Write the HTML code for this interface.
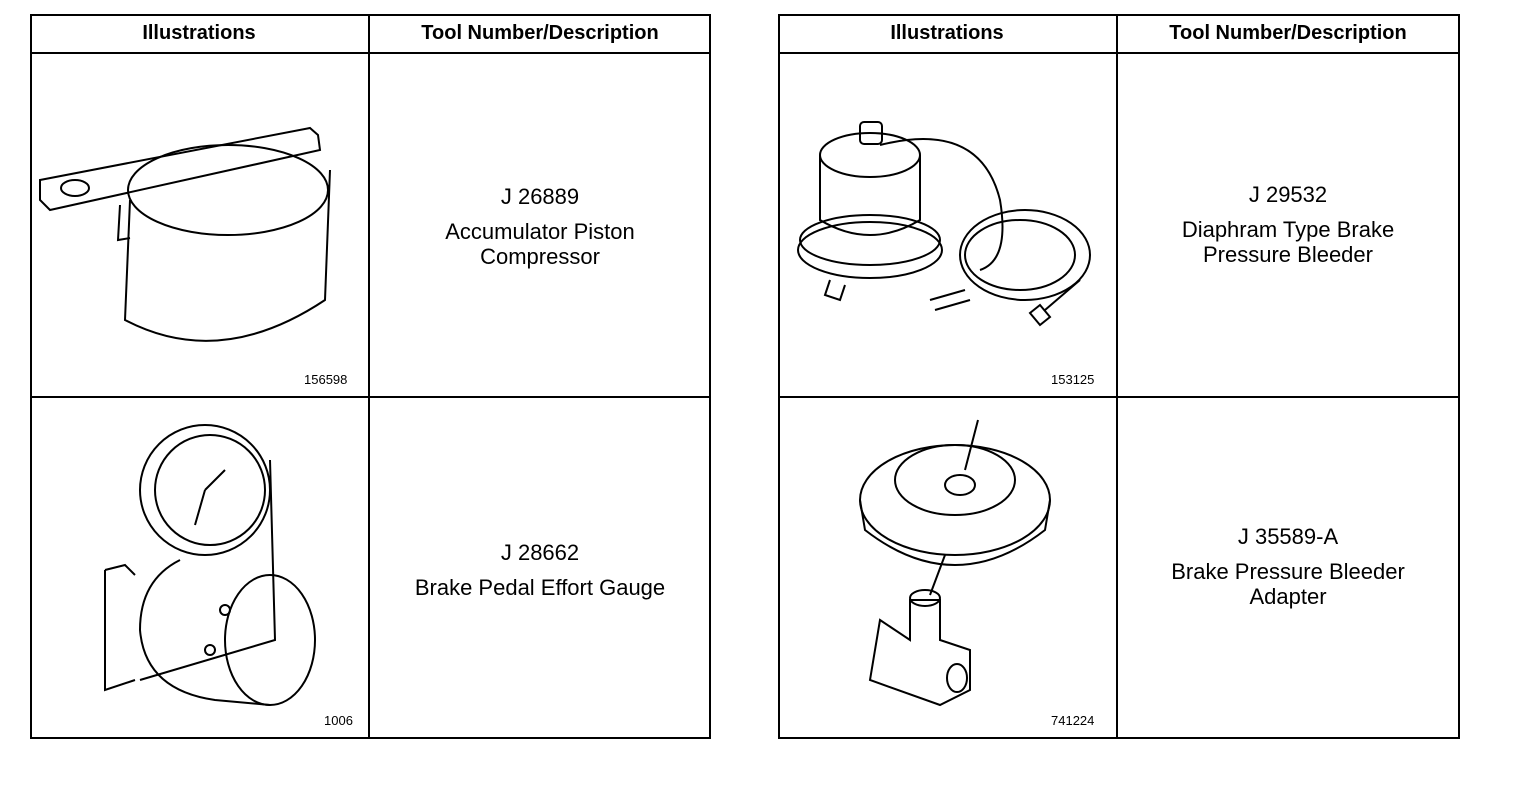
<!DOCTYPE html>
<html><head><style>
body{margin:0;width:1536px;height:796px;background:#fff;position:relative;font-family:"Liberation Sans",sans-serif;overflow:hidden}
.t{position:absolute;border:2px solid #000;box-sizing:border-box}
.l{position:absolute;background:#000}
.h{position:absolute;font-weight:bold;font-size:20px;text-align:center;top:22px}
.d{position:absolute;font-size:22px;text-align:center;line-height:25px}
.n{position:absolute;font-size:13px}
svg{position:absolute}
</style></head><body>
<div class="t" style="left:30px;top:14px;width:681px;height:725px"></div>
<div class="l" style="left:368px;top:14px;width:2px;height:725px"></div>
<div class="l" style="left:30px;top:52px;width:681px;height:2px"></div>
<div class="l" style="left:30px;top:396px;width:681px;height:2px"></div>
<div class="h" style="left:30px;width:338px">Illustrations</div>
<div class="h" style="left:370px;width:340px">Tool Number/Description</div>
<div class="d" style="left:370px;width:340px;top:184px">J 26889<br><span style="display:block;margin-top:10px">Accumulator Piston<br>Compressor</span></div>
<div class="d" style="left:370px;width:340px;top:540px">J 28662<br><span style="display:block;margin-top:10px">Brake Pedal Effort Gauge</span></div>
<div class="n" style="left:304px;top:372px">156598</div>
<div class="n" style="left:324px;top:713px">1006</div>

<div class="t" style="left:778px;top:14px;width:682px;height:725px"></div>
<div class="l" style="left:1116px;top:14px;width:2px;height:725px"></div>
<div class="l" style="left:778px;top:52px;width:682px;height:2px"></div>
<div class="l" style="left:778px;top:396px;width:682px;height:2px"></div>
<div class="h" style="left:778px;width:338px">Illustrations</div>
<div class="h" style="left:1118px;width:340px">Tool Number/Description</div>
<div class="d" style="left:1118px;width:340px;top:182px">J 29532<br><span style="display:block;margin-top:10px">Diaphram Type Brake<br>Pressure Bleeder</span></div>
<div class="d" style="left:1118px;width:340px;top:524px">J 35589-A<br><span style="display:block;margin-top:10px">Brake Pressure Bleeder<br>Adapter</span></div>
<div class="n" style="left:1051px;top:372px">153125</div>
<div class="n" style="left:1051px;top:713px">741224</div>

<svg width="1536" height="796" fill="none" stroke="#000" stroke-width="2">
<path d="M130 200 L125 320 Q220 370 325 300 L330 170"/>
<ellipse cx="228" cy="190" rx="100" ry="45"/>
<path d="M40 180 L310 128 L318 135 L320 150 L50 210 L40 200 Z"/>
<ellipse cx="75" cy="188" rx="14" ry="8"/>
<path d="M120 205 L118 240 L130 238"/>
<circle cx="205" cy="490" r="65"/>
<circle cx="210" cy="490" r="55"/>
<path d="M205 490 L195 525 M205 490 L225 470"/>
<path d="M105 570 L105 690 L135 680 M105 570 L125 565 L135 575"/>
<path d="M270 460 L275 640 L140 680"/>
<ellipse cx="270" cy="640" rx="45" ry="65"/>
<path d="M180 560 Q140 580 140 630 Q145 690 215 700 L270 705"/>
<circle cx="210" cy="650" r="5"/><circle cx="225" cy="610" r="5"/>
<ellipse cx="870" cy="155" rx="50" ry="22"/>
<path d="M820 155 L820 220 Q870 250 920 220 L920 155"/>
<ellipse cx="870" cy="240" rx="70" ry="25"/>
<ellipse cx="870" cy="250" rx="72" ry="28"/>
<rect x="860" y="122" width="22" height="22" rx="4"/>
<path d="M880 145 Q980 120 1000 200 Q1010 260 980 270"/>
<ellipse cx="1025" cy="255" rx="65" ry="45"/>
<ellipse cx="1020" cy="255" rx="55" ry="35"/>
<path d="M1080 280 L1045 310 M1040 305 l10 12 -10 8 -10 -12z"/>
<path d="M930 300 L965 290 M935 310 L970 300"/>
<path d="M830 280 l-5 15 15 5 5 -15"/>
<ellipse cx="955" cy="500" rx="95" ry="55"/>
<ellipse cx="955" cy="480" rx="60" ry="35"/>
<ellipse cx="960" cy="485" rx="15" ry="10"/>
<path d="M860 500 L865 530 Q955 600 1045 530 L1050 500"/>
<path d="M978 420 L965 470 M945 555 L930 595"/>
<path d="M910 600 L910 640 L880 620 L870 680 L940 705 L970 690 L970 650 L940 640 L940 600 Z"/>
<ellipse cx="925" cy="598" rx="15" ry="8"/>
<ellipse cx="957" cy="678" rx="10" ry="14"/>
</svg>
</body></html>
